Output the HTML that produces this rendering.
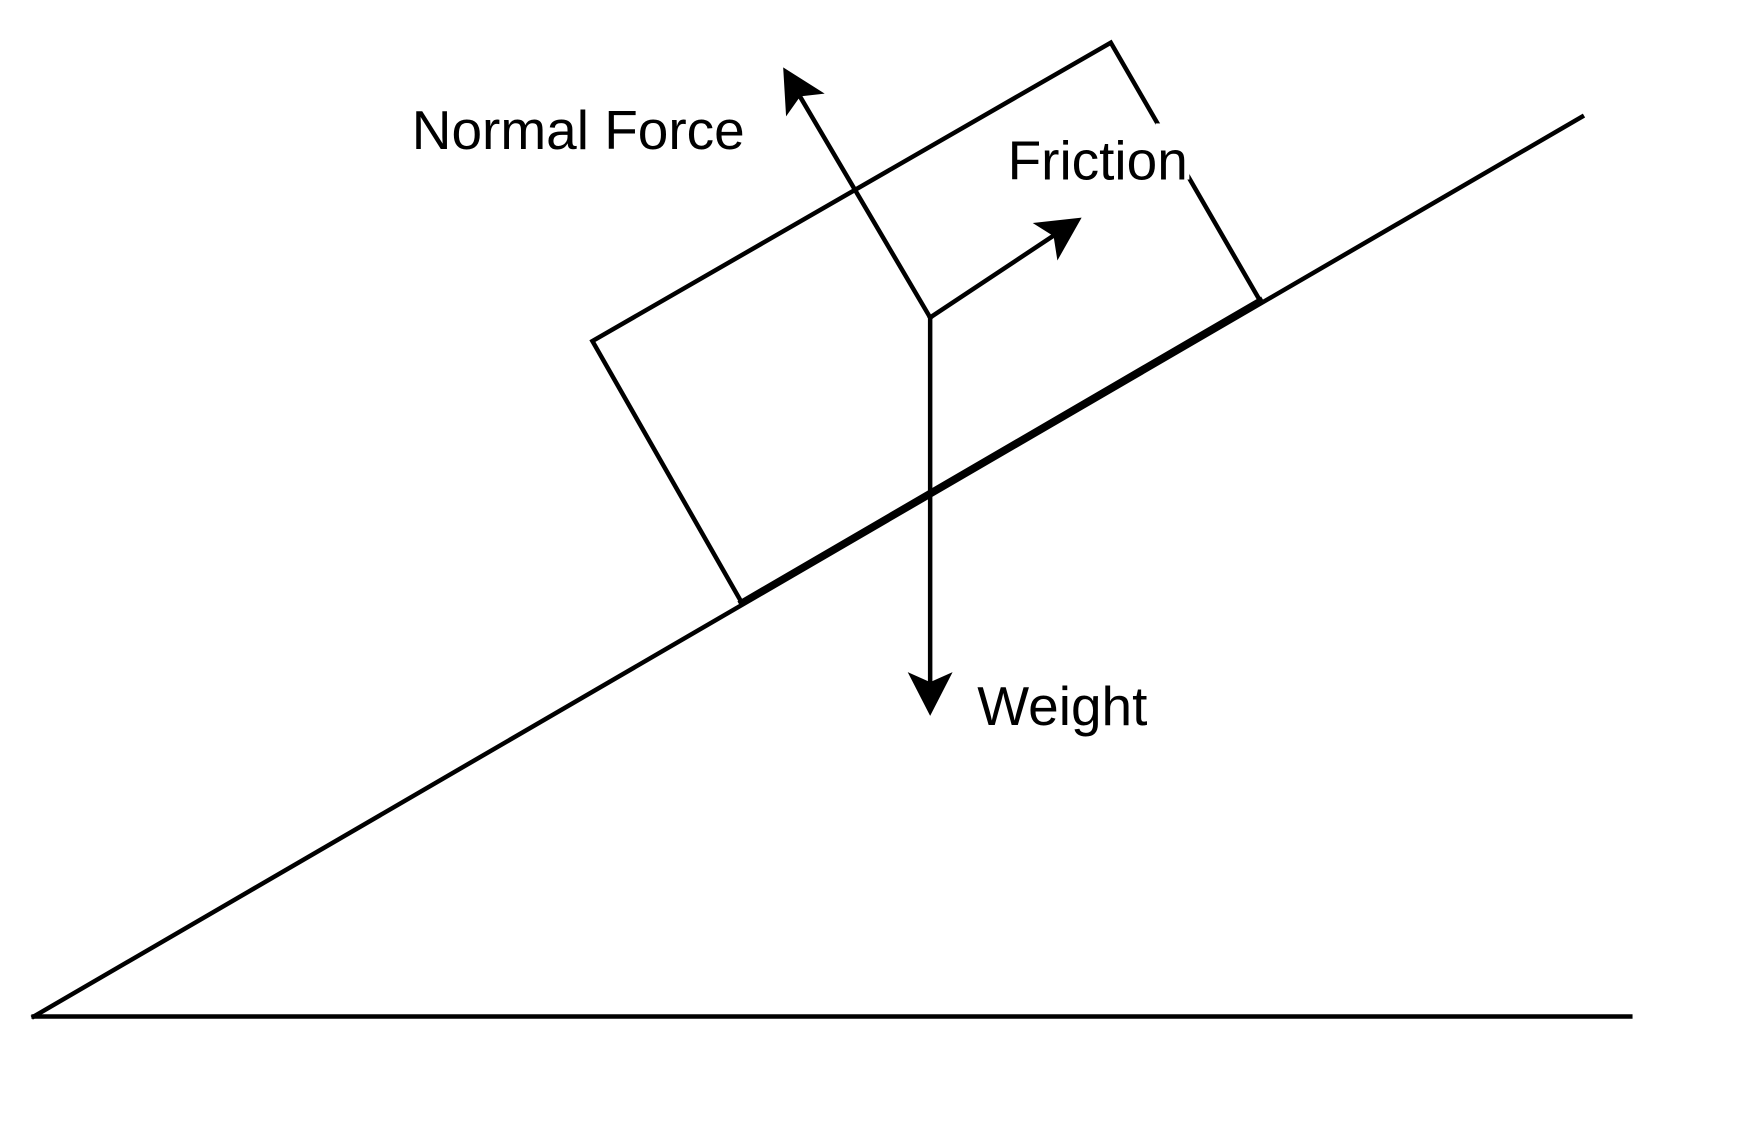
<!DOCTYPE html>
<html><head><meta charset="utf-8"><style>html,body{margin:0;padding:0;background:#fff;}svg{display:block}</style></head>
<body>
<svg width="1760" height="1145" viewBox="0 0 1568.6 1020.5" preserveAspectRatio="none" xmlns="http://www.w3.org/2000/svg">
<rect width="1568.6" height="1020.5" fill="#fff"/>
<g stroke="#000" stroke-width="4" fill="none" stroke-linecap="square">
<line x1="30" y1="906" x2="1453" y2="906"/>
<line x1="30" y1="906" x2="1410" y2="104"/>
<line x1="661" y1="537" x2="1123" y2="268" stroke-width="5.5"/>
<polyline points="661,537 528,304 990,38 1123,268"/>
<line x1="829" y1="283" x2="713" y2="86"/>
<line x1="829" y1="283" x2="939" y2="210"/>
<line x1="829" y1="283" x2="829" y2="608"/>
</g>
<rect x="1030" y="110" width="30" height="50" fill="#fff"/>
<g fill="#000">
<polygon points="698,60 735,83.5 713.2,85.9 700.6,103.7"/>
<polygon points="964,194 942.4,232.2 939,210.5 920.4,198.8"/>
<polygon points="829,638 809,599 829,608 849,599"/>
</g>
<g font-family="Liberation Sans, sans-serif" font-size="49" fill="#000">
<text x="367" y="133">Normal Force</text>
<text x="898" y="160">Friction</text>
<text x="871" y="646">Weight</text>
</g>
</svg>
</body></html>
